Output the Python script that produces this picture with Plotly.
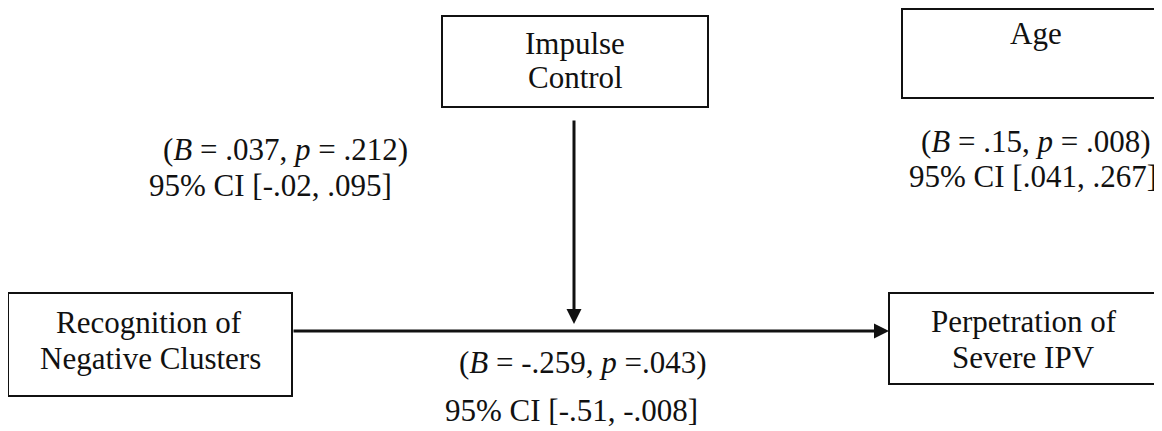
import plotly.graph_objects as go

# ---- data (text content of the path diagram) ----
node_lines = [["Impulse", "Control"], ["Age"], ["Recognition of", "Negative Clusters"], ["Perpetration of", "Severe IPV"]]
path_names = ["Impulse Control (moderator)", "Age (covariate)", "Recognition -> IPV"]
B_values = [".037", ".15", "-.259"]
p_values = [".212", ".008", ".043"]
p_sep = [" = ", " = ", " ="]
ci_low = ["-.02", ".041", "-.51"]
ci_high = [".095", ".267", "-.008"]

# ---- layout (positions in page pixel space) ----
W, H = 1162, 431
OFF = 8  # page body margin
node_boxes = [(442, 16, 708, 107), (902, 9, 1175, 98), (8, 293, 292, 396), (889, 293, 1157, 384)]
node_line_pos = [[(575, 43), (575, 77)], [(1036, 33)], [(149, 322), (150, 358)], [(1024, 321), (1023, 357)]]
stat_line1_pos = [(285, 149), (1036, 141), (583, 362)]
stat_line2_pos = [(270, 185), (1033, 176), (571, 410)]

FONT = dict(family="Liberation Serif", size=31, color="#111111")
INK = "#111111"

fig = go.Figure()
fig.add_trace(go.Scatter(x=[OFF, W], y=[OFF, H], mode="markers", marker=dict(opacity=0),
                         hoverinfo="skip", showlegend=False))

shapes = []
for (x0, y0, x1, y1) in node_boxes:
    shapes.append(dict(type="rect", xref="x", yref="y", x0=x0, y0=y0, x1=x1, y1=y1,
                       line=dict(color=INK, width=2), fillcolor="rgba(0,0,0,0)"))

annotations = []
for lines, positions in zip(node_lines, node_line_pos):
    for txt, (x, y) in zip(lines, positions):
        annotations.append(dict(x=x, y=y, xref="x", yref="y", text=txt, showarrow=False,
                                font=FONT, xanchor="center", yanchor="middle"))

for i in range(len(path_names)):
    l1 = f"(<i>B</i> = {B_values[i]}, <i>p</i>{p_sep[i]}{p_values[i]})"
    l2 = f"95% CI [{ci_low[i]}, {ci_high[i]}]"
    x, y = stat_line1_pos[i]
    annotations.append(dict(x=x, y=y, xref="x", yref="y", text=l1, showarrow=False,
                            font=FONT, xanchor="center", yanchor="middle"))
    x, y = stat_line2_pos[i]
    annotations.append(dict(x=x, y=y, xref="x", yref="y", text=l2, showarrow=False,
                            font=FONT, xanchor="center", yanchor="middle"))

arrow_common = dict(xref="x", yref="y", axref="x", ayref="y", text="", showarrow=True,
                    arrowhead=2, arrowsize=1, arrowwidth=3, arrowcolor=INK, standoff=0, startstandoff=0)
annotations.append(dict(x=889, y=331, ax=292, ay=331, **arrow_common))
annotations.append(dict(x=574, y=324, ax=574, ay=119, **arrow_common))

fig.update_layout(
    width=W - OFF, height=H - OFF,
    margin=dict(l=0, r=0, t=0, b=0),
    paper_bgcolor="white", plot_bgcolor="white",
    xaxis=dict(range=[OFF, W], visible=False, fixedrange=True),
    yaxis=dict(range=[H, OFF], visible=False, fixedrange=True),
    shapes=shapes, annotations=annotations, showlegend=False,
)

fig.write_html("out.html")
